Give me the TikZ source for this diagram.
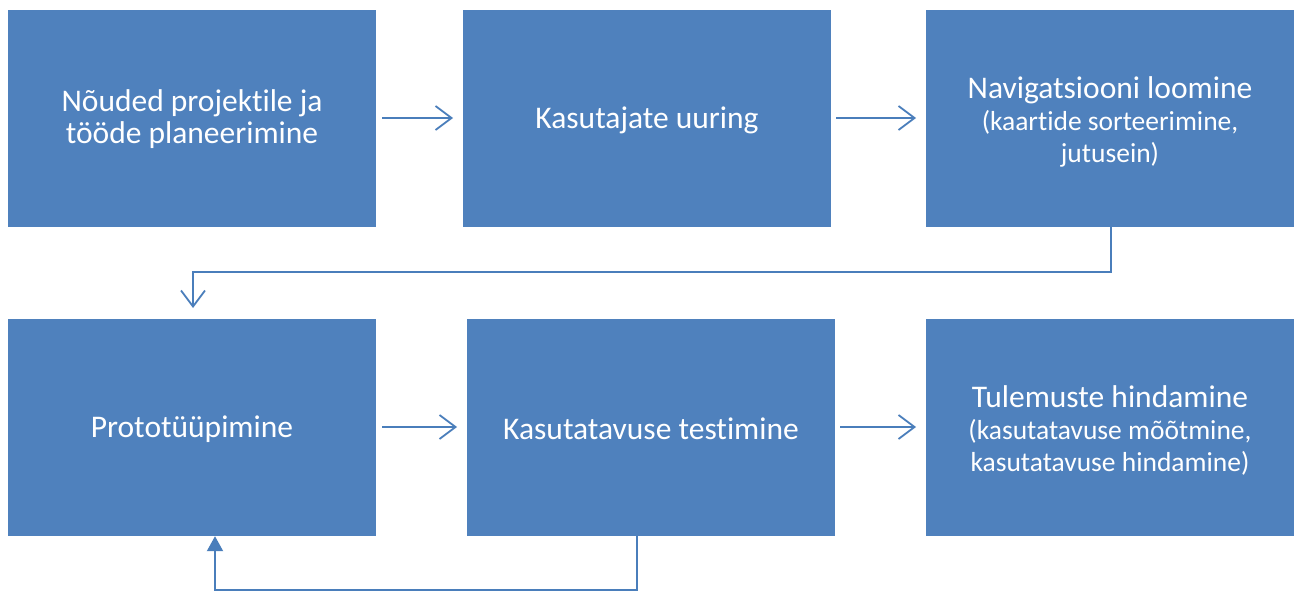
\documentclass[tikz,border=0pt]{standalone}
\usepackage{fontspec}
\setmainfont{Carlito}[Ligatures=NoCommon]
\usetikzlibrary{arrows.meta}
\definecolor{boxblue}{HTML}{4F81BD}
\definecolor{lineblue}{HTML}{4A7EBB}
\newcommand{\subfont}{\fontsize{27.5}{30}\selectfont}
\begin{document}
\begin{tikzpicture}[x=1pt,y=-1pt,
  stepbox/.style={fill=boxblue,draw=none,minimum width=368pt,minimum height=217pt,inner sep=0pt},
  label/.style={text=white,align=center,font=\fontsize{31.5}{32}\selectfont},
  flow/.style={draw=lineblue,line width=1.8pt,-{Straight Barb[length=16pt,width=24pt,line width=1.8pt]}},
  back/.style={draw=lineblue,line width=2pt,-{Triangle[length=15pt,width=16pt]}}]
\useasboundingbox (0,0) rectangle (1296,594);
\node[stepbox] (b1) at (192,118.5) {};
\node[stepbox] (b2) at (647,118.5) {};
\node[stepbox] (b3) at (1110,118.5) {};
\node[stepbox] (b4) at (192,427.5) {};
\node[stepbox] (b5) at (651,427.5) {};
\node[stepbox] (b6) at (1110,427.5) {};
\node[label] (t1) at ([yshift=-1pt]b1) {Nõuded projektile ja\\tööde planeerimine};
\node[label] (t2) at ([yshift=-2pt]b2) {Kasutajate uuring};
\node[label] (t3) at ([yshift=-3pt]b3) {Navigatsiooni loomine\\{\subfont (kaartide sorteerimine,}\\{\subfont jutusein)}};
\node[label] (t4) at ([yshift=-2pt]b4) {Prototüüpimine};
\node[label] (t5) at ([yshift=-1pt]b5) {Kasutatavuse testimine};
\node[label] (t6) at ([yshift=-3pt]b6) {Tulemuste hindamine\\{\subfont (kasutatavuse mõõtmine,}\\{\subfont kasutatavuse hindamine)}};
\coordinate (a1s) at (382,118);
\coordinate (a1e) at (453,118);
\coordinate (a2s) at (836,118);
\coordinate (a2e) at (916,118);
\coordinate (a3s) at (382,427);
\coordinate (a3e) at (457,427);
\coordinate (a4s) at (840,427);
\coordinate (a4e) at (916,427);
\draw[flow] (a1s) -- (a1e);
\draw[flow] (a2s) -- (a2e);
\draw[flow] (a3s) -- (a3e);
\draw[flow] (a4s) -- (a4e);
\coordinate (e1) at (1111,272);
\coordinate (e2) at (193,272);
\coordinate (e3) at (193,308);
\draw[flow] (b3.south -| e1) -- (e1) -- (e2) -- (e3);
\coordinate (f1) at (637,590);
\coordinate (f2) at (215,590);
\draw[back] (b5.south -| f1) -- (f1) -- (f2) -- (b4.south -| f2);
\end{tikzpicture}
\end{document}
